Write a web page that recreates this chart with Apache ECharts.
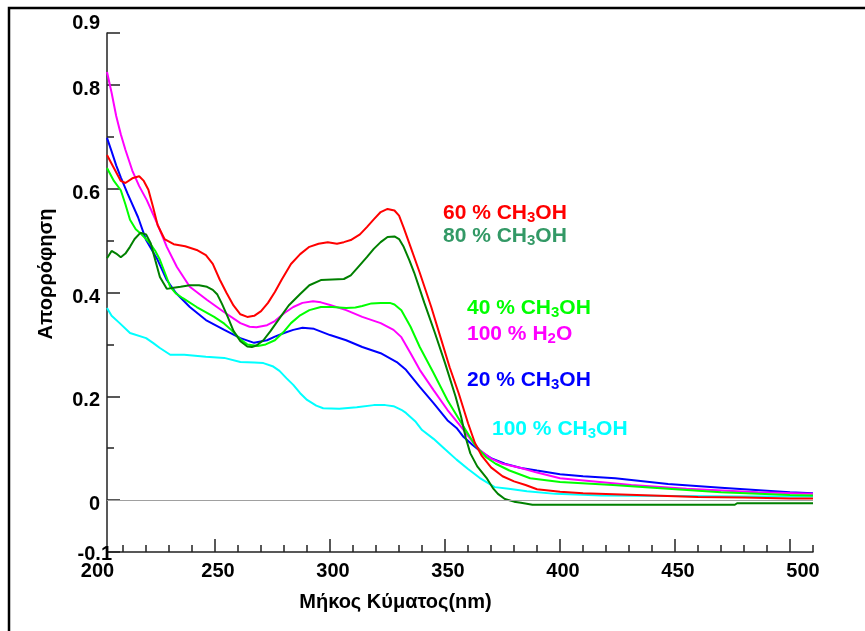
<!DOCTYPE html>
<html>
<head>
<meta charset="utf-8">
<title>Απορρόφηση</title>
<script src="https://cdn.jsdelivr.net/npm/echarts@6.0.0/dist/echarts.min.js"></script>
<style>
  html, body { margin: 0; padding: 0; background: #fff; }
  #chart { width: 865px; height: 631px; }
</style>
</head>
<body>
<div id="chart"></div>
<script>
// [wavelength nm, absorbance]
const ch3oh60 = [[203, 0.665], [206, 0.64], [209, 0.615], [211, 0.611], [214, 0.62], [217, 0.624], [219, 0.615], [221, 0.598], [223, 0.565], [225, 0.53], [228, 0.503], [232, 0.493], [237, 0.489], [242, 0.482], [246, 0.472], [249, 0.455], [252, 0.425], [255, 0.399], [258, 0.375], [261, 0.358], [264, 0.353], [267, 0.355], [270, 0.364], [273, 0.38], [276, 0.401], [279, 0.425], [283, 0.455], [287, 0.474], [291, 0.488], [295, 0.494], [299, 0.497], [303, 0.494], [306, 0.497], [309, 0.501], [313, 0.512], [316, 0.526], [319, 0.541], [322, 0.555], [325, 0.561], [328, 0.558], [330, 0.548], [332, 0.525], [335, 0.488], [339, 0.438], [344, 0.372], [348, 0.314], [352, 0.256], [356, 0.205], [360, 0.148], [363, 0.11], [366, 0.085], [370, 0.063], [375, 0.046], [380, 0.036], [385, 0.029], [390, 0.021], [400, 0.016], [410, 0.013], [440, 0.009], [460, 0.006], [480, 0.005], [500, 0.003], [510, 0.003]]
const ch3oh80 = [[203, 0.466], [205, 0.48], [207, 0.475], [209, 0.468], [211, 0.475], [213, 0.488], [215, 0.503], [217.5, 0.515], [220, 0.512], [222, 0.495], [224, 0.462], [226, 0.43], [229, 0.407], [232, 0.409], [235, 0.411], [239, 0.414], [243, 0.414], [246.5, 0.411], [249, 0.405], [251, 0.396], [253, 0.378], [255.5, 0.353], [258, 0.326], [261, 0.306], [264, 0.296], [266, 0.295], [268, 0.298], [271, 0.308], [274, 0.325], [278, 0.35], [282, 0.375], [287, 0.397], [291, 0.414], [296, 0.424], [301, 0.425], [306, 0.426], [309, 0.433], [312, 0.448], [316, 0.468], [319, 0.484], [322, 0.497], [325, 0.507], [328, 0.508], [330, 0.503], [332, 0.488], [334.5, 0.462], [336.6, 0.438], [341, 0.38], [345.6, 0.322], [350, 0.264], [354.6, 0.199], [357, 0.16], [359, 0.12], [361, 0.09], [364, 0.065], [368, 0.043], [371, 0.022], [373, 0.012], [376, 0.002], [380, -0.003], [383, -0.005], [388, -0.009], [400, -0.009], [476, -0.009], [477, -0.006], [510, -0.006]]
const ch3oh40 = [[203, 0.64], [206, 0.615], [209, 0.597], [211, 0.57], [213, 0.54], [215.5, 0.522], [218, 0.512], [221.7, 0.495], [224, 0.48], [226, 0.463], [228, 0.44], [230.5, 0.411], [233, 0.398], [236, 0.389], [242, 0.372], [249.6, 0.353], [254, 0.34], [257, 0.328], [261, 0.31], [264, 0.3], [268.6, 0.297], [272, 0.3], [276, 0.308], [280, 0.325], [283, 0.341], [287, 0.356], [291, 0.366], [296, 0.372], [301, 0.372], [307, 0.37], [311, 0.371], [314, 0.374], [318, 0.379], [322, 0.38], [326, 0.38], [328, 0.377], [331, 0.366], [333, 0.35], [335, 0.334], [339, 0.295], [345, 0.245], [351, 0.193], [357, 0.149], [363, 0.106], [368, 0.082], [372, 0.07], [378, 0.057], [387, 0.042], [400, 0.035], [423, 0.029], [447, 0.022], [470, 0.015], [500, 0.01], [510, 0.009]]
const h2o100 = [[203, 0.825], [205, 0.785], [207, 0.74], [209, 0.705], [211, 0.675], [214, 0.635], [217, 0.605], [220.3, 0.578], [224.7, 0.534], [229, 0.488], [233.4, 0.449], [239, 0.411], [246.4, 0.386], [254, 0.362], [261, 0.341], [265, 0.334], [268, 0.333], [272.6, 0.337], [276, 0.345], [280, 0.36], [284, 0.372], [288, 0.38], [292.6, 0.383], [296, 0.381], [300, 0.376], [307, 0.366], [314, 0.353], [322, 0.341], [327.6, 0.328], [331, 0.314], [335, 0.283], [339, 0.251], [345, 0.212], [351, 0.174], [357, 0.141], [361, 0.118], [365, 0.097], [370, 0.08], [375, 0.07], [383, 0.062], [390, 0.053], [400, 0.042], [431, 0.029], [455, 0.022], [486, 0.015], [510, 0.012]]
const ch3oh20 = [[203, 0.698], [205, 0.672], [207, 0.645], [209, 0.622], [212, 0.59], [216.5, 0.545], [220, 0.501], [225, 0.463], [229, 0.424], [233, 0.399], [239, 0.372], [246, 0.347], [254, 0.328], [261, 0.312], [267, 0.303], [272.6, 0.308], [276, 0.315], [280, 0.322], [284, 0.328], [288, 0.332], [293, 0.33], [300, 0.318], [307, 0.308], [314, 0.295], [322, 0.283], [329, 0.266], [333, 0.251], [339, 0.218], [345, 0.187], [351, 0.154], [355, 0.139], [358, 0.122], [362, 0.106], [366, 0.092], [370, 0.081], [376, 0.07], [383, 0.062], [390, 0.057], [400, 0.05], [410, 0.046], [424, 0.042], [447, 0.031], [470, 0.024], [500, 0.015], [510, 0.013]]
const ch3oh100 = [[203, 0.37], [205, 0.355], [208.5, 0.341], [213, 0.322], [220, 0.312], [223, 0.303], [226, 0.293], [230.5, 0.28], [236.6, 0.28], [246, 0.276], [254, 0.274], [261, 0.266], [267, 0.265], [271, 0.264], [275, 0.258], [278, 0.249], [281, 0.235], [284, 0.222], [287, 0.206], [290, 0.193], [294, 0.182], [297, 0.177], [304, 0.176], [311.6, 0.179], [319, 0.183], [324, 0.183], [327.6, 0.181], [331, 0.174], [333, 0.168], [337, 0.152], [340, 0.135], [345, 0.118], [350, 0.098], [355, 0.078], [360, 0.06], [365, 0.043], [371.6, 0.025], [377.7, 0.022], [385.6, 0.017], [398, 0.012], [418, 0.009], [450, 0.008], [480, 0.007], [510, 0.007]]

// axis ticks and labels
const xLabelValues = [200, 250, 300, 350, 400, 450, 500]
const xMajorTicks = [250, 300, 350, 400, 450, 500]
const xMinorTicks = [210, 220, 230, 240, 260, 270, 280, 290, 310, 320, 330, 340, 360, 370, 380, 390, 410, 420, 430, 440, 460, 470, 480, 490, 510]
const yLabelValues = [-0.1, 0, 0.2, 0.4, 0.6, 0.8, 0.9]

// on-plot captions: [prefix, subscript, suffix]
const captions = [
  ['60 % CH', '3', 'OH'],
  ['80 % CH', '3', 'OH'],
  ['40 % CH', '3', 'OH'],
  ['100 % H', '2', 'O'],
  ['20 % CH', '3', 'OH'],
  ['100 % CH', '3', 'OH']
]

const FONT = '"Liberation Sans", Arial, sans-serif'
const AXIS = '#222'

const chart = echarts.init(document.getElementById('chart'))

function yLabel (v) {
  const k = Math.round(v * 10)
  if (k === 9) return '{t|0.9}'
  if (k === -1) return '{m|-0.1}'
  if (k === 0) return '{d|0}'
  if (k % 2 === 0) return '{d|' + (k / 10).toFixed(1) + '}'
  return ''
}

function xLabel (v) {
  if (v === 200) return '{a|200}'
  if (v === 500) return '{c|500}'
  return '{b|' + v + '}'
}

const lbl = { fontFamily: FONT, fontWeight: 'bold', fontSize: 20, color: '#000' }

function lineSeries (name, data, color) {
  return {
    name: name,
    type: 'line',
    xAxisIndex: 0,
    yAxisIndex: 0,
    data: data,
    symbol: 'none',
    silent: true,
    lineStyle: { color: color, width: 2 },
    itemStyle: { color: color },
    emphasis: { disabled: true }
  }
}

// caption position (px) and colour
const captionLayout = [
  { x: 443, y: 214, color: '#ff0000' },
  { x: 443, y: 237, color: '#339966' },
  { x: 467, y: 309, color: '#00ff00' },
  { x: 467, y: 335, color: '#ff00ff' },
  { x: 467, y: 381, color: '#0000ff' },
  { x: 492, y: 430, color: '#00ffff' }
]

const captionGraphics = captions.map((c, i) => {
  const p = captionLayout[i]
  return {
    type: 'text',
    x: p.x,
    y: p.y,
    silent: true,
    style: {
      text: '{n|' + c[0] + '}{s|' + c[1] + '}{n|' + c[2] + '}',
      align: 'left',
      verticalAlign: 'middle',
      fill: p.color,
      rich: {
        n: { fontFamily: FONT, fontWeight: 'bold', fontSize: 21, lineHeight: 23, verticalAlign: 'top', fill: p.color },
        s: { fontFamily: FONT, fontWeight: 'bold', fontSize: 15, lineHeight: 15, padding: [8, 0, 0, 0], verticalAlign: 'top', fill: p.color }
      }
    }
  }
})

const option = {
  animation: false,
  backgroundColor: '#fff',
  grid: [
    { left: 107, right: 52, top: 33, bottom: 79, outerBoundsMode: 'none' },
    { left: 100, right: 52, top: 33, bottom: 79, outerBoundsMode: 'none' }
  ],
  xAxis: [
    {
      gridIndex: 0,
      type: 'value',
      position: 'bottom',
      min: 203,
      max: 510,
      axisLine: { show: true, onZero: false, lineStyle: { color: AXIS, width: 1.5 } },
      axisTick: { show: false },
      axisLabel: { show: false },
      splitLine: { show: false }
    },
    {
      gridIndex: 1,
      type: 'value',
      position: 'bottom',
      min: 200,
      max: 510,
      interval: 50,
      axisLine: { show: false, onZero: false },
      axisTick: { show: true, inside: true, length: 13, customValues: xMajorTicks, lineStyle: { color: AXIS, width: 1.5 } },
      axisLabel: {
        show: true,
        customValues: xLabelValues,
        margin: 9,
        formatter: xLabel,
        rich: {
          a: Object.assign({ padding: [0, 5, 0, 0] }, lbl),
          b: Object.assign({ padding: [0, 0, 0, 6] }, lbl),
          c: Object.assign({ padding: [0, 0, 0, 26] }, lbl)
        }
      },
      splitLine: { show: false },
      name: 'Μήκος Κύματος(nm)',
      nameLocation: 'middle',
      nameGap: 40,
      nameMoveOverlap: false,
      nameTextStyle: { fontFamily: FONT, fontWeight: 'bold', fontSize: 20, color: '#000', padding: [0, 122, 0, 0] }
    },
    {
      gridIndex: 1,
      type: 'value',
      position: 'bottom',
      min: 200,
      max: 510,
      interval: 50,
      axisLine: { show: false, onZero: false },
      axisTick: { show: true, inside: true, length: 7, customValues: xMinorTicks, lineStyle: { color: AXIS, width: 1.5 } },
      axisLabel: { show: false },
      splitLine: { show: false }
    }
  ],
  yAxis: [
    {
      gridIndex: 0,
      type: 'value',
      position: 'left',
      min: -0.1,
      max: 0.9,
      interval: 0.1,
      axisLine: { show: true, onZero: false, lineStyle: { color: AXIS, width: 1.5 } },
      axisTick: { show: true, inside: true, length: 7, lineStyle: { color: AXIS, width: 1.5 } },
      axisLabel: {
        show: true,
        margin: -5,
        showMinLabel: true,
        showMaxLabel: true,
        formatter: yLabel,
        rich: {
          d: Object.assign({ padding: [9, 12, 0, 0] }, lbl),
          t: Object.assign({ padding: [0, 12, 20, 0] }, lbl),
          m: Object.assign({ padding: [5, 0, 0, 0] }, lbl)
        }
      },
      splitLine: { show: false },
      name: 'Απορρόφηση',
      nameLocation: 'middle',
      nameGap: 51,
      nameRotate: 90,
      nameMoveOverlap: false,
      nameTextStyle: { fontFamily: FONT, fontWeight: 'bold', fontSize: 20, color: '#000', padding: [0, 0, 0, 37] }
    },
    {
      gridIndex: 0,
      type: 'value',
      position: 'left',
      min: -0.1,
      max: 0.9,
      axisLine: { show: false, onZero: false },
      axisTick: { show: true, inside: true, length: 13, customValues: yLabelValues, lineStyle: { color: AXIS, width: 1.5 } },
      axisLabel: { show: false },
      splitLine: { show: false }
    },
    {
      gridIndex: 1,
      type: 'value',
      min: -0.1,
      max: 0.9,
      show: false
    }
  ],
  series: [
    Object.assign(lineSeries('100 % CH3OH', ch3oh100, '#00ffff'), {
      markLine: {
        silent: true,
        symbol: ['none', 'none'],
        label: { show: false },
        lineStyle: { color: '#a0a0a0', width: 1, type: 'solid' },
        data: [{ yAxis: 0 }]
      }
    }),
    lineSeries('20 % CH3OH', ch3oh20, '#0000ff'),
    lineSeries('100 % H2O', h2o100, '#ff00ff'),
    lineSeries('40 % CH3OH', ch3oh40, '#00ff00'),
    lineSeries('80 % CH3OH', ch3oh80, '#008000'),
    lineSeries('60 % CH3OH', ch3oh60, '#ff0000')
  ],
  graphic: [
    {
      type: 'polyline',
      silent: true,
      shape: { points: [[9, 640], [9, 8], [870, 8]] },
      style: { stroke: '#000', lineWidth: 2.5, fill: null }
    }
  ].concat(captionGraphics)
}

chart.setOption(option)
</script>
</body>
</html>
